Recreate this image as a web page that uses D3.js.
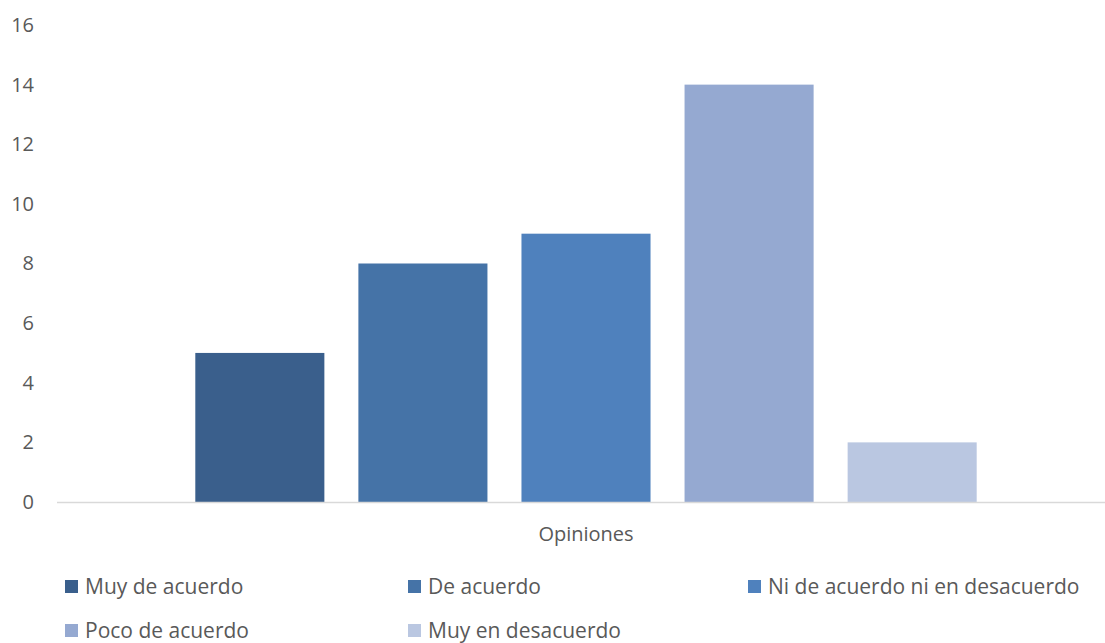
<!DOCTYPE html>
<html>
<head>
<meta charset="utf-8">
<script src="https://cdn.jsdelivr.net/npm/d3@7/dist/d3.min.js"></script>
<style>
  html, body { margin: 0; padding: 0; background: #fff; }
  svg { display: block; font-family: "Open Sans", "Noto Sans", sans-serif; }
</style>
</head>
<body>
<svg id="chart" width="1105" height="643"></svg>
<script>
const categories = ["Opiniones"];
const seriesNames = ["Muy de acuerdo", "De acuerdo", "Ni de acuerdo ni en desacuerdo", "Poco de acuerdo", "Muy en desacuerdo"];
const seriesValues = [5, 8, 9, 14, 2];
const seriesColors = ["#3A5F8C", "#4573A7", "#4F81BD", "#95A9D1", "#BAC7E1"];
const yTicks = [0, 2, 4, 6, 8, 10, 12, 14, 16];

const svg = d3.select("#chart");
const plot = { left: 57, right: 1115, top: 25, bottom: 502 };

const y = d3.scaleLinear().domain([0, 16]).range([plot.bottom, plot.top]);
const x0 = d3.scaleBand().domain(categories).range([plot.left, plot.right]).paddingInner(0).paddingOuter(0.177);
const x1 = d3.scaleBand().domain(seriesNames).range([0, x0.bandwidth()]).paddingInner(0.2086).paddingOuter(0);

// y axis labels
const yAxis = d3.axisLeft(y).tickValues(yTicks).tickSize(0).tickPadding(0);
const gy = svg.append("g").attr("transform", `translate(34,0)`).call(yAxis);
gy.attr("font-size", null).attr("font-family", null);
gy.select(".domain").remove();
gy.selectAll("text").attr("fill", "#595959").style("font-size", "20px");

// bars
const data = seriesNames.map((s, i) => ({ cat: categories[0], series: s, value: seriesValues[i], color: seriesColors[i] }));
svg.append("g").selectAll("rect").data(data).join("rect")
  .attr("x", d => x0(d.cat) + x1(d.series))
  .attr("y", d => y(d.value))
  .attr("width", x1.bandwidth())
  .attr("height", d => y(0) - y(d.value))
  .attr("fill", d => d.color);

// x axis line
const xAxis = d3.axisBottom(x0).tickSize(0).tickPadding(0);
const gx = svg.append("g").attr("transform", `translate(0,${plot.bottom})`).call(xAxis);
gx.attr("font-size", null).attr("font-family", null);
gx.select(".domain").attr("stroke", "#d9d9d9").attr("stroke-width", 1.5)
  .attr("d", `M${plot.left},0.5H1105`);
gx.selectAll("text").attr("fill", "#595959").attr("dy", "0").attr("y", 39)
  .style("font-size", "20px");

// legend
const legendPos = [
  { x: 65, y: 587 }, { x: 408, y: 587 }, { x: 748, y: 587 },
  { x: 65, y: 631 }, { x: 408, y: 631 }
];
const lg = svg.append("g").selectAll("g").data(data).join("g")
  .attr("transform", (d, i) => `translate(${legendPos[i].x},${legendPos[i].y})`);
lg.append("rect").attr("x", 0).attr("y", -7).attr("width", 13).attr("height", 13).attr("fill", d => d.color);
lg.append("text").attr("x", 20).attr("y", 0).attr("dy", "0.35em")
  .attr("fill", "#595959").style("font-size", "21px")
  .text(d => d.series);
</script>
</body>
</html>
